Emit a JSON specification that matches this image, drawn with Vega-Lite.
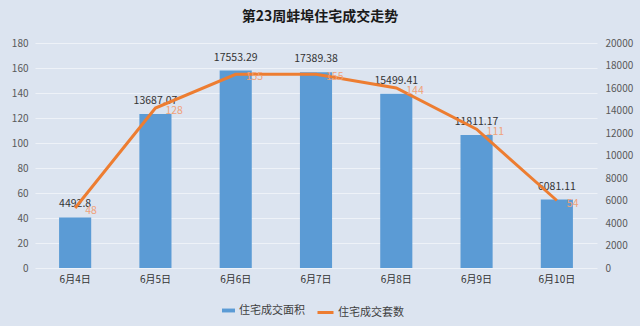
{
  "$schema": "https://vega.github.io/schema/vega-lite/v6.json",
  "autosize": {"type": "none"},
  "width": 562,
  "height": 225,
  "padding": {"left": 35, "top": 43, "right": 43, "bottom": 58},
  "background": "#dce4f0",
  "title": {
    "text": "第23周蚌埠住宅成交走势",
    "fontSize": 14,
    "fontWeight": "bold",
    "color": "#1a1a1a",
    "anchor": "middle",
    "dx": 4,
    "offset": 14
  },
  "config": {
    "font": "Noto Sans CJK SC",
    "view": {"stroke": null},
    "axis": {"labelColor": "#595959", "labelFontSize": 10, "ticks": false, "domain": false, "title": null}
  },
  "data": {
    "values": [
      {"date": "6月4日", "area": 4492.8, "count": 48},
      {"date": "6月5日", "area": 13687.07, "count": 128},
      {"date": "6月6日", "area": 17553.29, "count": 155},
      {"date": "6月7日", "area": 17389.38, "count": 155},
      {"date": "6月8日", "area": 15499.41, "count": 144},
      {"date": "6月9日", "area": 11811.17, "count": 111},
      {"date": "6月10日", "area": 6081.11, "count": 54}
    ]
  },
  "encoding": {
    "x": {
      "field": "date",
      "type": "ordinal",
      "sort": null,
      "scale": {"paddingInner": 0.6, "paddingOuter": 0.3},
      "axis": {"labelAngle": 0, "labelColor": "#333333", "labelPadding": 6, "grid": false}
    }
  },
  "layer": [
    {
      "encoding": {
        "y": {
          "field": "area",
          "type": "quantitative",
          "scale": {"domain": [0, 20000], "nice": false},
          "axis": {"orient": "right", "values": [0,2000,4000,6000,8000,10000,12000,14000,16000,18000,20000], "grid": false, "labelPadding": 8, "format": "d"}
        }
      },
      "layer": [
        {
          "mark": {"type": "bar", "fill": "#5b9bd5"},
          "encoding": {
            "fill": {
              "datum": "住宅成交面积",
              "scale": {"range": ["#5b9bd5"]},
              "legend": {
                "orient": "none", "legendX": 186, "legendY": 260, "title": null,
                "symbolType": "M-1,-0.3H1V0.3H-1Z", "symbolSize": 169,
                "labelFontSize": 11, "labelColor": "#404040", "labelOffset": 3
              }
            }
          }
        },
        {
          "mark": {"type": "text", "baseline": "middle", "dy": -13, "fontSize": 10.5, "color": "#333333"},
          "encoding": {"text": {"field": "area", "type": "nominal"}}
        }
      ]
    },
    {
      "encoding": {
        "y": {
          "field": "count",
          "type": "quantitative",
          "scale": {"domain": [0, 180], "nice": false},
          "axis": {"orient": "left", "values": [0,20,40,60,80,100,120,140,160,180], "grid": true, "gridColor": "#eef2f8", "gridWidth": 1, "labelPadding": 7}
        }
      },
      "layer": [
        {
          "mark": {"type": "line", "strokeWidth": 3},
          "encoding": {
            "stroke": {
              "datum": "住宅成交套数",
              "scale": {"range": ["#ed7d31"]},
              "legend": {
                "orient": "none", "legendX": 281, "legendY": 260, "title": null,
                "symbolType": "M-1,0H1", "symbolSize": 256, "symbolStrokeWidth": 3,
                "labelFontSize": 11, "labelColor": "#404040", "labelOffset": 3
              }
            }
          }
        },
        {
          "mark": {"type": "text", "align": "left", "baseline": "middle", "dx": 10, "dy": 3, "fontSize": 10.5, "color": "#f0a27a"},
          "encoding": {"text": {"field": "count", "type": "quantitative"}}
        }
      ]
    }
  ],
  "resolve": {"scale": {"y": "independent"}}
}
